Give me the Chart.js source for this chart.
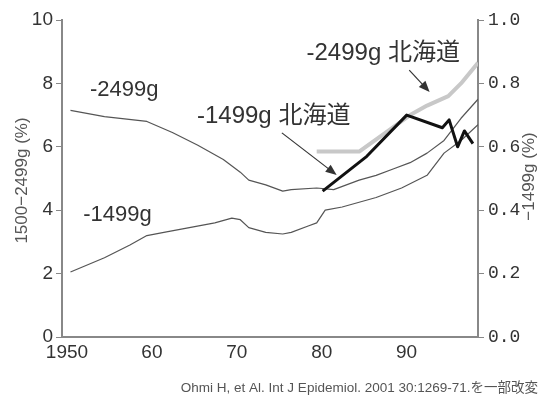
<!DOCTYPE html>
<html>
<head>
<meta charset="utf-8">
<script src="https://cdn.jsdelivr.net/npm/chart.js@4.4.1/dist/chart.umd.min.js"></script>
<style>
  html, body { margin: 0; padding: 0; background: #fff; }
</style>
</head>
<body>
<canvas id="lbwChart" width="548" height="395"></canvas>
<script>
// low birth weight rate, Japan vs Hokkaido
const years2499 = [1951, 1955, 1960, 1963, 1966, 1969, 1971, 1972, 1974, 1976, 1977, 1980, 1982, 1985, 1987, 1989, 1991, 1993, 1995, 1997, 1999];
const rate2499 = [7.15, 6.95, 6.8, 6.45, 6.05, 5.6, 5.2, 4.95, 4.8, 4.6, 4.65, 4.7, 4.65, 4.95, 5.1, 5.3, 5.5, 5.8, 6.2, 6.9, 7.5];

const years1499 = [1951, 1955, 1958, 1960, 1962, 1965, 1968, 1970, 1971, 1972, 1974, 1976, 1977, 1979, 1980, 1981, 1983, 1987, 1990, 1993, 1995, 1997, 1999];
const rate1499 = [0.205, 0.25, 0.29, 0.32, 0.33, 0.345, 0.36, 0.375, 0.37, 0.345, 0.33, 0.325, 0.33, 0.35, 0.36, 0.40, 0.41, 0.44, 0.47, 0.51, 0.58, 0.62, 0.67];

const yearsHok2499 = [1980, 1985, 1991, 1993, 1995.5, 1997, 1999];
const rateHok2499 = [5.85, 5.85, 7.0, 7.3, 7.6, 8.0, 8.65];

const yearsHok1499 = [1980.7, 1985.9, 1990.6, 1994.8, 1995.6, 1996.6, 1997.4, 1998.4];
const rateHok1499 = [0.46, 0.57, 0.70, 0.66, 0.685, 0.60, 0.65, 0.61];

const xTicks = [1950, 1960, 1970, 1980, 1990];
const xTickLabels = ['1950', '60', '70', '80', '90'];

const toPoints = (xs, ys) => xs.map((x, i) => ({ x: x, y: ys[i] }));

// labels, arrows and axis titles
const notesPlugin = {
    id: 'notesPlugin',
    afterDraw: (chart) => {
        const { ctx, scales } = chart;
        const px = (v) => scales.x.getPixelForValue(v);
        const py = (v) => scales.yLeft.getPixelForValue(v);
        ctx.save();
        ctx.fillStyle = '#333';
        ctx.textBaseline = 'middle';
        ctx.textAlign = 'left';

        ctx.font = '22px "Liberation Sans", "Noto Sans CJK JP", sans-serif';
        ctx.fillText('-2499g', px(1953.3), py(7.8));
        ctx.fillText('-1499g', px(1952.5), py(3.85));
        ctx.font = '24px "Liberation Sans", "Noto Sans CJK JP", sans-serif';
        ctx.fillText('-1499g 北海道', px(1965.9), py(6.97));
        ctx.fillText('-2499g 北海道', px(1978.8), py(8.96));

        // arrows
        const arrow = (x1, y1, x2, y2) => {
            const ax = px(x1), ay = py(y1), bx = px(x2), by = py(y2);
            const ang = Math.atan2(by - ay, bx - ax);
            ctx.strokeStyle = '#333';
            ctx.lineWidth = 1.2;
            ctx.beginPath();
            ctx.moveTo(ax, ay);
            ctx.lineTo(bx - 6 * Math.cos(ang), by - 6 * Math.sin(ang));
            ctx.stroke();
            ctx.beginPath();
            ctx.moveTo(bx, by);
            ctx.lineTo(bx - 11 * Math.cos(ang) + 4.5 * Math.sin(ang), by - 11 * Math.sin(ang) - 4.5 * Math.cos(ang));
            ctx.lineTo(bx - 11 * Math.cos(ang) - 4.5 * Math.sin(ang), by - 11 * Math.sin(ang) + 4.5 * Math.cos(ang));
            ctx.closePath();
            ctx.fill();
        };
        arrow(1975.9, 6.44, 1982.35, 5.11);
        arrow(1990.9, 8.42, 1993.3, 7.73);

        // axis titles, both read bottom to top
        ctx.fillStyle = '#555';
        ctx.font = '17px "Liberation Sans", "Noto Sans CJK JP", sans-serif';
        ctx.textAlign = 'center';
        const midY = (chart.chartArea.top + chart.chartArea.bottom) / 2;
        ctx.save();
        ctx.translate(22, midY + 2);
        ctx.rotate(-Math.PI / 2);
        ctx.fillText('1500−2499g (%)', 0, 0);
        ctx.restore();
        ctx.save();
        ctx.translate(529, midY - 2);
        ctx.rotate(-Math.PI / 2);
        ctx.fillText('−1499g (%)', 0, 0);
        ctx.restore();

        // source note
        ctx.fillStyle = '#555';
        ctx.font = '13.5px "Liberation Sans", "Noto Sans CJK JP", sans-serif';
        ctx.textAlign = 'right';
        ctx.fillText('Ohmi H, et Al. Int J Epidemiol. 2001 30:1269-71.を一部改変', 538, 388);
        ctx.restore();
    }
};

const tickFont = { family: '"Liberation Sans Narrow", "Liberation Sans", sans-serif', size: 19 };
const axisGrey = '#888';

new Chart(document.getElementById('lbwChart').getContext('2d'), {
    type: 'line',
    data: {
        datasets: [
            {
                label: '-1499g 北海道',
                data: toPoints(yearsHok1499, rateHok1499),
                yAxisID: 'yRight',
                borderColor: '#111',
                borderWidth: 3,
                order: 0
            },
            {
                label: '-2499g 北海道',
                data: toPoints(yearsHok2499, rateHok2499),
                yAxisID: 'yLeft',
                borderColor: '#c8c8c8',
                borderWidth: 4,
                order: 1
            },
            {
                label: '-2499g',
                data: toPoints(years2499, rate2499),
                yAxisID: 'yLeft',
                borderColor: '#555',
                borderWidth: 1.2,
                order: 2
            },
            {
                label: '-1499g',
                data: toPoints(years1499, rate1499),
                yAxisID: 'yRight',
                borderColor: '#555',
                borderWidth: 1.2,
                order: 3
            }
        ]
    },
    options: {
        responsive: false,
        animation: false,
        layout: { padding: { top: 20 } },
        elements: {
            point: { radius: 0 },
            line: { tension: 0, borderJoinStyle: 'round', borderCapStyle: 'butt' }
        },
        plugins: {
            legend: { display: false },
            tooltip: { enabled: false }
        },
        scales: {
            x: {
                type: 'linear',
                min: 1950,
                max: 1999,
                afterFit: (s) => { s.height = 58; },
                afterBuildTicks: (s) => { s.ticks = xTicks.map(v => ({ value: v })); },
                border: { color: axisGrey, width: 2 },
                grid: { display: true, drawOnChartArea: false, drawTicks: false },
                ticks: {
                    color: '#333',
                    font: tickFont,
                    padding: 4,
                    labelOffset: 5,
                    maxRotation: 0,
                    callback: (v) => xTickLabels[xTicks.indexOf(v)]
                }
            },
            yLeft: {
                position: 'left',
                min: 0,
                max: 10,
                afterFit: (s) => { s.width = 62; },
                border: { color: axisGrey, width: 2 },
                grid: { drawOnChartArea: false, color: axisGrey, tickLength: 6, tickWidth: 1 },
                ticks: { stepSize: 2, color: '#333', font: tickFont, padding: 3 }
            },
            yRight: {
                position: 'right',
                min: 0,
                max: 1,
                afterFit: (s) => { s.width = 70; },
                border: { color: axisGrey, width: 2 },
                grid: { drawOnChartArea: false, color: axisGrey, tickLength: 6, tickWidth: 1 },
                ticks: {
                    stepSize: 0.2,
                    color: '#333',
                    font: { family: '"Liberation Mono", monospace', size: 18 },
                    padding: 4,
                    callback: (v) => v.toFixed(1)
                }
            }
        }
    },
    plugins: [notesPlugin]
});
</script>
</body>
</html>
